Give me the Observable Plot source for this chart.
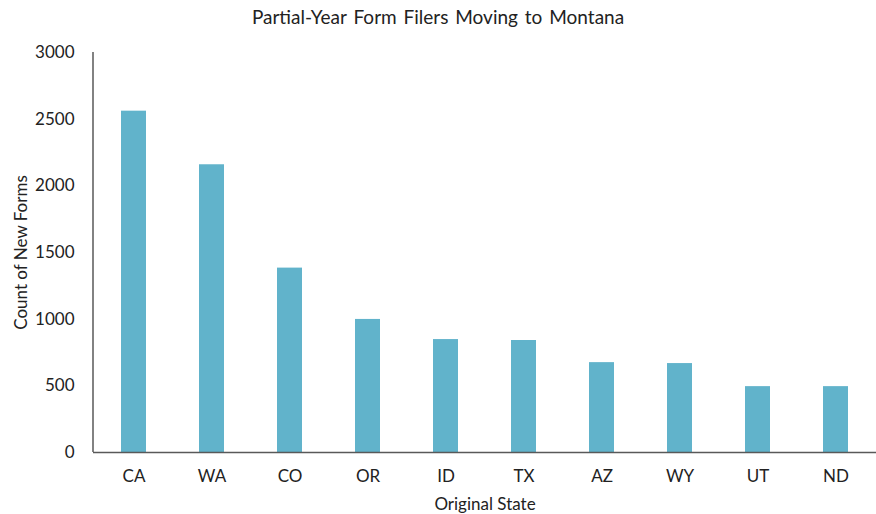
<!DOCTYPE html>
<html>
<head>
<meta charset="utf-8">
<script src="https://cdn.jsdelivr.net/npm/d3@7"></script>
<script src="https://cdn.jsdelivr.net/npm/@observablehq/plot@0.6"></script>
<style>
  html, body { margin: 0; padding: 0; background: #fff; }
  #wrap { position: relative; width: 876px; height: 514px; }
  #title { position: absolute; left: 0; top: 5px; width: 876px; text-align: center;
    font-family: Lato, sans-serif; font-size: 19px; word-spacing: 2px; color: #222; }
  #chart { position: absolute; left: 0; top: 0; }
</style>
</head>
<body>
<div id="wrap">
  <div id="chart"></div>
  <div id="title">Partial-Year Form Filers Moving to Montana</div>
</div>
<script>
const states = ["CA", "WA", "CO", "OR", "ID", "TX", "AZ", "WY", "UT", "ND"];
const counts = [2560, 2158, 1383, 998, 847, 840, 674, 667, 494, 494];
const yTicks = [0, 500, 1000, 1500, 2000, 2500, 3000];

const data = states.map((s, i) => ({state: s, count: counts[i]}));

// vertical y-axis line at the left edge of the plot area
function yAxisLine(index, scales, values, dims) {
  const g = d3.create("svg:g");
  g.append("line")
    .attr("x1", dims.marginLeft).attr("x2", dims.marginLeft)
    .attr("y1", scales.y(0)).attr("y2", scales.y(3000))
    .attr("stroke", "#595959").attr("stroke-width", 1.5);
  return g.node();
}

const chart = Plot.plot({
  width: 876,
  height: 514,
  marginLeft: 93,
  marginRight: 0,
  marginTop: 52,
  marginBottom: 62,
  style: {fontFamily: "Lato, sans-serif", fontSize: "17px", color: "#222", background: "#fff"},
  x: {domain: states, paddingInner: 0.68, paddingOuter: 0.33},
  y: {domain: [0, 3000]},
  marks: [
    Plot.barY(data, {x: "state", y: "count", fill: "#61b3cb"}),
    Plot.axisX({tickSize: 0, tickPadding: 17, label: "Original State", labelAnchor: "center", labelOffset: 57}),
    Plot.axisY({ticks: yTicks, tickFormat: "d", tickSize: 0, tickPadding: 19, label: "Count of New Forms", labelAnchor: "center", labelOffset: 79, labelArrow: "none"}),
    yAxisLine,
    Plot.ruleY([0], {stroke: "#595959", strokeWidth: 1.5})
  ]
});
document.getElementById("chart").appendChild(chart);
</script>
</body>
</html>
